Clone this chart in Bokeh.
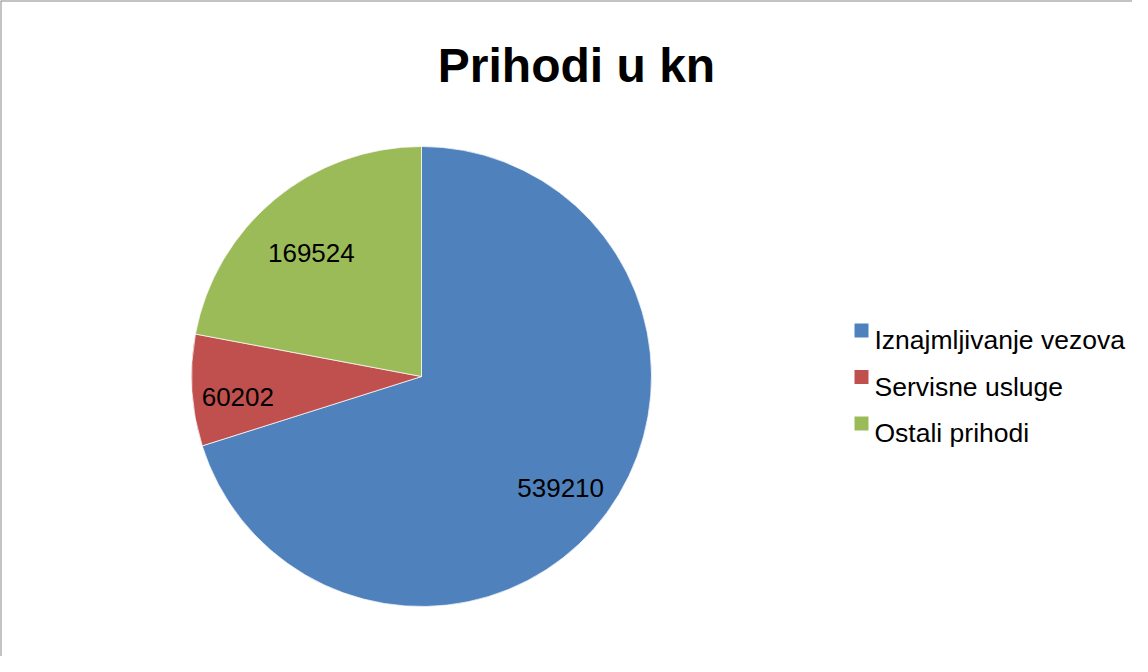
import math
from bokeh.plotting import figure
from bokeh.models import Range1d, Span
from bokeh.core.properties import value
from bokeh.embed import file_html
from bokeh.resources import INLINE

# ---- data ----
title = "Prihodi u kn"
categories = ["Iznajmljivanje vezova", "Servisne usluge", "Ostali prihodi"]
values = [539210, 60202, 169524]
colors = ["#4F81BD", "#C0504D", "#9BBB59"]

# ---- layout constants (page pixel coordinates) ----
W, H = 1132, 656
PAGE_OFF = 8
FONT = "Liberation Sans"


def Y(page_y):
    # convert page pixel y (downwards) to data y (upwards)
    return 672 - page_y


cx, cy = 429, Y(384)
R = 230
label_frac = [0.75, 0.8, 0.75]

p = figure(width=W, height=H, output_backend="svg", toolbar_location=None,
           x_range=Range1d(PAGE_OFF, PAGE_OFF + W),
           y_range=Range1d(Y(PAGE_OFF + H), Y(PAGE_OFF)),
           x_axis_type=None, y_axis_type=None, min_border=0,
           background_fill_color="white", border_fill_color="white",
           outline_line_color=None)
p.xgrid.visible = False
p.ygrid.visible = False

# chart frame border (left and top visible; the rest is cut off)
p.add_layout(Span(location=PAGE_OFF, dimension="height", line_color="#878787", line_width=2))
p.add_layout(Span(location=Y(PAGE_OFF), dimension="width", line_color="#878787", line_width=2))

# ---- pie ----
total = float(sum(values))
starts, ends, mids = [], [], []
cum = 0.0
for v in values:
    a0 = math.pi / 2 - 2 * math.pi * cum / total
    cum += v
    a1 = math.pi / 2 - 2 * math.pi * cum / total
    starts.append(a0)
    ends.append(a1)
    mids.append((a0 + a1) / 2)

p.wedge(x=[cx] * len(values), y=[cy] * len(values), radius=R, radius_units="screen",
        start_angle=starts, end_angle=ends, direction="clock",
        fill_color=colors, line_color="white", line_width=1, line_alpha=0.7)

# data labels
lx = [cx + f * R * math.cos(m) for f, m in zip(label_frac, mids)]
ly = [cy + f * R * math.sin(m) - 9.3 for f, m in zip(label_frac, mids)]
p.text(x=lx, y=ly, text=[str(v) for v in values], text_align="center",
       text_baseline="alphabetic", text_font=value(FONT),
       text_font_size=value("26px"), text_color="black")

# title
p.text(x=[584], y=[Y(73)], text=[title], text_align="center", text_baseline="alphabetic",
       text_font=value(FONT), text_font_size=value("48px"), text_font_style="bold",
       text_color="black")

# legend
leg_y = [Y(338), Y(384.5), Y(431)]
p.rect(x=[869] * 3, y=leg_y, width=14, height=14, width_units="screen",
       height_units="screen", fill_color=colors, line_color=None)
p.text(x=[882] * 3, y=[v - 9.5 for v in leg_y], text=categories, text_align="left",
       text_baseline="alphabetic", text_font=value(FONT),
       text_font_size=value("26.5px"), text_color="black")

open("out.html", "w").write(file_html(p, INLINE))
